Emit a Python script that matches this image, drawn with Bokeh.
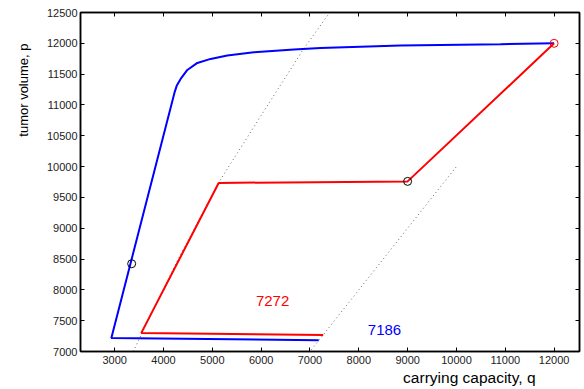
from bokeh.plotting import figure
from bokeh.models import LinearAxis, Label, FixedTicker, Range1d, Title
from bokeh.embed import file_html
from bokeh.resources import INLINE

FONT = "Liberation Sans"

# blue trajectory
blue_q = [12000, 10900, 8853, 7216, 6670, 5851, 5307, 4965, 4693, 4488, 4351, 4270, 4225, 2932, 7180]
blue_p = [12000, 11985, 11963, 11926, 11898, 11854, 11801, 11747, 11682, 11568, 11422, 11310, 11200, 7220, 7183]

# red trajectory
red_q = [12000, 9000, 5130, 3546, 7270]
red_p = [12000, 9760, 9735, 7302, 7269]

# dotted guide curves
dot1_q = [3380, 3560, 4300, 5160, 6000, 6870, 7370]
dot1_p = [7000, 7300, 8500, 9780, 10830, 11910, 12460]
dot2_q = [7030, 10000]
dot2_p = [7030, 10000]

# markers
black_q = [3348, 9000]
black_p = [8424, 9760]
red_mark_q = [12000]
red_mark_p = [12000]

# annotations
red_txt = ("7272", 6234, 7817)
blue_txt = ("7186", 8526, 7345)

x_ticks = [3000, 4000, 5000, 6000, 7000, 8000, 9000, 10000, 11000, 12000]
y_ticks = [7000, 7500, 8000, 8500, 9000, 9500, 10000, 10500, 11000, 11500, 12000, 12500]

p = figure(width=584, height=389,
           x_range=Range1d(2300, 12520), y_range=Range1d(7000, 12500),
           output_backend="svg", toolbar_location=None,
           min_border_left=80, min_border_right=5, min_border_top=12, min_border_bottom=38)
p.grid.visible = False
p.outline_line_color = "black"
p.outline_line_width = 1.5
p.background_fill_color = "white"
p.border_fill_color = "white"

def style_axis(ax, show_labels=True):
    ax.axis_line_color = "black"
    ax.axis_line_width = 1.5
    ax.major_tick_in = 4
    ax.major_tick_out = 0
    ax.minor_tick_in = 0
    ax.minor_tick_out = 0
    ax.major_tick_line_color = "black"
    ax.major_tick_line_width = 1
    ax.major_label_text_font = FONT
    ax.major_label_text_font_size = "11px" if show_labels else "0px"
    ax.major_label_text_color = "#222222"
    ax.major_label_standoff = 4 if show_labels else 0

p.xaxis.ticker = FixedTicker(ticks=x_ticks)
p.yaxis.ticker = FixedTicker(ticks=y_ticks)
style_axis(p.xaxis[0])
style_axis(p.yaxis[0])
p.yaxis[0].major_label_standoff = 3

top = LinearAxis(ticker=FixedTicker(ticks=x_ticks))
style_axis(top, False)
top.major_label_text_alpha = 0
right = LinearAxis(ticker=FixedTicker(ticks=y_ticks))
style_axis(right, False)
right.major_label_text_alpha = 0
p.add_layout(top, "above")
p.add_layout(right, "right")

p.line(dot1_q, dot1_p, line_color="#666666", line_width=1, line_dash="1 3")
p.line(dot2_q, dot2_p, line_color="#666666", line_width=1, line_dash="1 3")
p.line(blue_q, blue_p, line_color="#0000ff", line_width=2)
p.line(red_q, red_p, line_color="#ff0000", line_width=2)
p.scatter(black_q, black_p, marker="circle", size=8, fill_color=None, line_color="black", line_width=1)
p.scatter(red_mark_q, red_mark_p, marker="circle", size=8, fill_color=None, line_color="#ff0000", line_width=1)

for (txt, qx, py), col in [(red_txt, "#ff0000"), (blue_txt, "#0000ff")]:
    p.add_layout(Label(x=qx, y=py, text=txt, text_color=col, text_font=FONT,
                       text_font_size="15px", text_align="center", text_baseline="middle"))

xlab = Title(text="carrying capacity, q", align="right", offset=44, standoff=1,
             text_font=FONT, text_font_size="15.5px", text_font_style="normal", text_color="black")
ylab = Title(text="tumor volume, p", align="right", offset=31, standoff=26,
             text_font=FONT, text_font_size="13px", text_font_style="normal", text_color="black")
p.add_layout(xlab, "below")
p.add_layout(ylab, "left")

open("out.html", "w").write(file_html(p, INLINE))
